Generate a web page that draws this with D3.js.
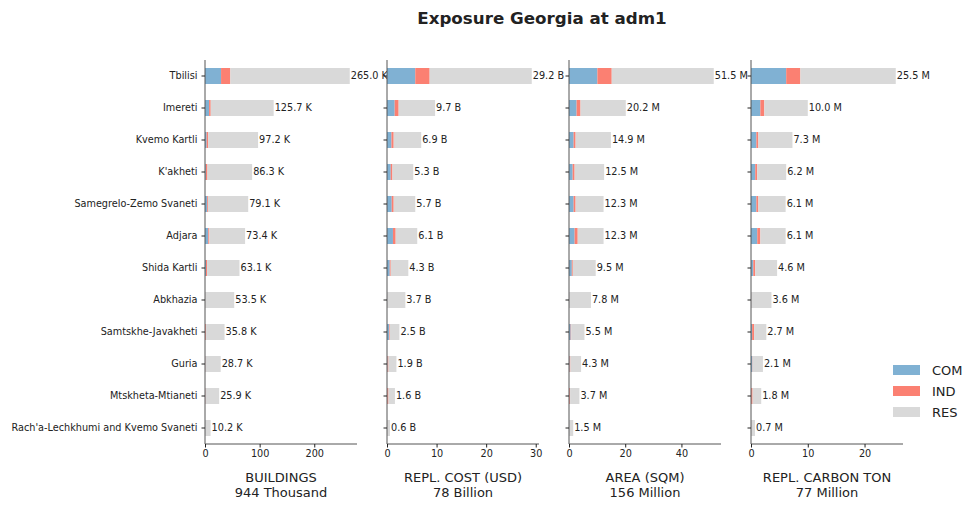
<!DOCTYPE html>
<html>
<head>
<meta charset="utf-8">
<script src="https://cdn.jsdelivr.net/npm/d3@7"></script>
<style>
  body { margin: 0; background: #fff; }
  text { font-family: "DejaVu Sans", sans-serif; }
</style>
</head>
<body>
<svg id="chart" width="979" height="510"></svg>
<script>
var width = 979;
var height = 510;

var regions = ['Tbilisi', 'Imereti', 'Kvemo Kartli', "K'akheti", 'Samegrelo-Zemo Svaneti', 'Adjara',
  'Shida Kartli', 'Abkhazia', 'Samtskhe-Javakheti', 'Guria', 'Mtskheta-Mtianeti',
  "Rach'a-Lechkhumi and Kvemo Svaneti"];
var sectors = ['COM', 'IND', 'RES'];
var colors = ['#80b1d3', '#fb8072', '#d9d9d9'];

// buildings, thousands
var buildingsCom = [29.4, 7.5, 3.0, 1.5, 4.0, 6.0, 1.8, 0.3, 0.5, 0.5, 0.4, 0.2];
var buildingsInd = [17.0, 3.0, 3.0, 3.0, 1.5, 2.0, 2.0, 0.2, 1.5, 0.5, 0.6, 0.1];
var buildingsRes = [218.6, 115.2, 91.2, 81.8, 73.6, 65.4, 59.3, 53.0, 33.8, 27.7, 24.9, 9.9];

// replacement cost, billion USD
var costCom = [5.7, 1.55, 0.9, 0.75, 0.95, 1.2, 0.55, 0.05, 0.4, 0.1, 0.05, 0.02];
var costInd = [2.9, 0.8, 0.45, 0.35, 0.4, 0.55, 0.2, 0.03, 0.15, 0.2, 0.25, 0.02];
var costRes = [20.6, 7.35, 5.55, 4.2, 4.35, 4.35, 3.55, 3.62, 1.95, 1.6, 1.3, 0.56];

// area, million sqm
var areaCom = [10.1, 2.7, 1.65, 1.3, 1.65, 2.0, 1.0, 0.1, 0.6, 0.2, 0.1, 0.05];
var areaInd = [5.1, 1.4, 0.7, 0.7, 0.7, 1.1, 0.35, 0.05, 0.2, 0.3, 0.3, 0.02];
var areaRes = [36.3, 16.1, 12.55, 10.5, 9.95, 9.2, 8.15, 7.65, 4.7, 3.8, 3.3, 1.43];

// replacement carbon, million ton
var carbonCom = [6.2, 1.65, 0.95, 0.75, 0.95, 1.1, 0.4, 0.05, 0.2, 0.25, 0.03, 0.02];
var carbonInd = [2.5, 0.7, 0.35, 0.35, 0.35, 0.55, 0.35, 0.03, 0.35, 0.05, 0.25, 0.02];
var carbonRes = [16.8, 7.65, 6.0, 5.1, 4.8, 4.45, 3.85, 3.52, 2.15, 1.8, 1.52, 0.66];

var panelTitles = ['BUILDINGS', 'REPL. COST (USD)', 'AREA (SQM)', 'REPL. CARBON TON'];
var panelTotals = ['944 Thousand', '78 Billion', '156 Million', '77 Million'];
var unitSuffix = ['K', 'B', 'M', 'M'];
var tickValues = [[0, 100, 200], [0, 10, 20, 30], [0, 20, 40], [0, 10, 20]];

var panels = [
  [buildingsCom, buildingsInd, buildingsRes],
  [costCom, costInd, costRes],
  [areaCom, areaInd, areaRes],
  [carbonCom, carbonInd, carbonRes]
];

var panelLeft = [205, 387, 569, 751];
var panelWidth = 152;
var plotTop = 60;
var plotBottom = 444;
var axisColor = '#555';
var textColor = '#222';

var svg = d3.select('#chart');

svg.append('text')
  .attr('x', 542)
  .attr('y', 24)
  .attr('text-anchor', 'middle')
  .attr('font-size', 16.7)
  .attr('font-weight', 'bold')
  .attr('fill', textColor)
  .text('Exposure Georgia at adm1');

var y = d3.scaleBand()
  .domain(regions)
  .range([plotTop, plotBottom])
  .paddingInner(0.5)
  .paddingOuter(0.25);

panels.forEach(function(series, p) {
  var rows = regions.map(function(r, i) {
    return { region: r, COM: series[0][i], IND: series[1][i], RES: series[2][i] };
  });
  var totals = rows.map(function(d) { return d.COM + d.IND + d.RES; });

  var x = d3.scaleLinear()
    .domain([0, d3.max(totals) * 1.05])
    .range([0, panelWidth]);

  var g = svg.append('g')
    .attr('transform', 'translate(' + [panelLeft[p], 0] + ')');

  var stacked = d3.stack().keys(sectors)(rows);

  g.selectAll('.layer')
    .data(stacked).enter().append('g')
    .attr('fill', function(d, i) { return colors[i]; })
    .selectAll('rect')
    .data(function(d) { return d; }).enter().append('rect')
    .attr('x', function(d) { return x(d[0]); })
    .attr('y', function(d) { return y(d.data.region); })
    .attr('width', function(d) { return x(d[1]) - x(d[0]); })
    .attr('height', y.bandwidth());

  // value labels at bar ends
  g.selectAll('.value')
    .data(totals).enter().append('text')
    .attr('x', function(d) { return x(d) + 1; })
    .attr('y', function(d, i) { return y(regions[i]) + y.bandwidth() / 2; })
    .attr('dy', '.35em')
    .attr('font-size', 9.7)
    .attr('fill', textColor)
    .text(function(d) { return d.toFixed(1) + ' ' + unitSuffix[p]; });

  // left axis
  var yAxis = g.append('g')
    .call(d3.axisLeft(y).tickSize(3.5).tickPadding(4)
      .tickFormat(p === 0 ? null : function() { return ''; }));
  yAxis.select('.domain').attr('stroke', axisColor).attr('d', 'M0,' + plotTop + 'V' + plotBottom);
  yAxis.selectAll('.tick line').attr('stroke', '#222');
  yAxis.selectAll('.tick text').attr('font-size', 9.7).attr('fill', textColor)
    .attr('font-family', '"DejaVu Sans", sans-serif');

  // bottom axis
  var xAxis = g.append('g')
    .attr('transform', 'translate(0,' + plotBottom + ')')
    .call(d3.axisBottom(x).tickValues(tickValues[p]).tickSize(3.5).tickPadding(3));
  xAxis.select('.domain').attr('stroke', axisColor).attr('d', 'M0,0H' + panelWidth);
  xAxis.selectAll('.tick line').attr('stroke', '#222');
  xAxis.selectAll('.tick text').attr('font-size', 9.7).attr('fill', textColor)
    .attr('font-family', '"DejaVu Sans", sans-serif');

  g.append('text')
    .attr('x', panelWidth / 2)
    .attr('y', 482)
    .attr('text-anchor', 'middle')
    .attr('font-size', 13)
    .attr('fill', textColor)
    .text(panelTitles[p]);
  g.append('text')
    .attr('x', panelWidth / 2)
    .attr('y', 497)
    .attr('text-anchor', 'middle')
    .attr('font-size', 13)
    .attr('fill', textColor)
    .text(panelTotals[p]);
});

// legend
var legend = svg.append('g')
  .attr('transform', 'translate(893,365)');
legend.selectAll('rect')
  .data(sectors).enter().append('rect')
  .attr('x', 0)
  .attr('y', function(d, i) { return i * 21; })
  .attr('width', 27)
  .attr('height', 10)
  .attr('fill', function(d, i) { return colors[i]; });
legend.selectAll('text')
  .data(sectors).enter().append('text')
  .attr('x', 39)
  .attr('y', function(d, i) { return i * 21 + 5; })
  .attr('dy', '.35em')
  .attr('font-size', 13)
  .attr('fill', textColor)
  .text(function(d) { return d; });
</script>
</body>
</html>
